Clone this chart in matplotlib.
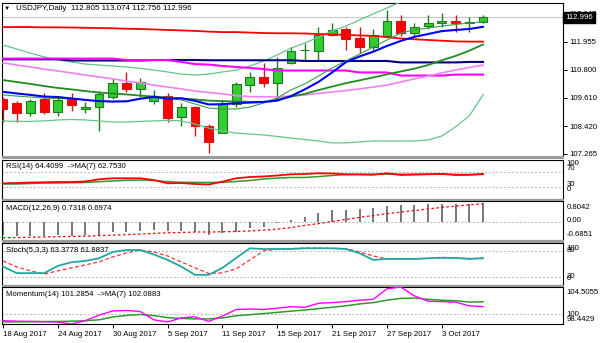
import matplotlib
matplotlib.use("Agg")
import matplotlib.pyplot as plt
from matplotlib.patches import Rectangle
from matplotlib.transforms import blended_transform_factory
import numpy as np

plt.rcParams['font.family'] = ['Liberation Sans', 'DejaVu Sans']

# ---------------- data ----------------
symbol = "USDJPY,Daily"
date_labels = ["18 Aug 2017", "24 Aug 2017", "30 Aug 2017", "5 Sep 2017", "11 Sep 2017",
               "15 Sep 2017", "21 Sep 2017", "27 Sep 2017", "3 Oct 2017"]
date_positions = [0, 4, 8, 12, 16, 20, 24, 28, 32]

open_ = [109.57, 109.38, 108.97, 109.56, 109.04, 109.55, 109.14, 109.25, 109.64, 110.23,
         109.97, 109.47, 109.71, 108.80, 109.22, 108.44, 108.16, 109.36, 110.14, 110.48,
         110.24, 111.06, 111.60, 111.59, 112.25, 112.49, 112.11, 111.73, 112.21, 112.83,
         112.32, 112.62, 112.74, 112.85, 112.73, 112.805]
high = [109.65, 109.48, 109.57, 109.82, 109.61, 109.82, 109.45, 109.92, 110.43, 110.71,
        110.45, 109.95, 109.83, 109.41, 109.27, 108.52, 109.53, 110.29, 110.71, 111.06,
        111.31, 111.76, 111.90, 112.57, 112.76, 112.57, 112.57, 112.49, 113.30, 113.09,
        112.76, 113.09, 113.18, 113.09, 113.01, 113.074]
low = [108.60, 108.62, 108.86, 108.92, 108.86, 109.08, 109.00, 108.24, 109.55, 109.88,
       109.66, 109.36, 108.62, 108.44, 108.02, 107.31, 108.14, 109.25, 109.87, 110.06,
       109.57, 111.03, 111.16, 111.17, 112.21, 111.62, 111.48, 111.59, 112.15, 112.21,
       112.21, 112.49, 112.60, 112.39, 112.39, 112.756]
close = [109.15, 108.97, 109.50, 109.02, 109.53, 109.32, 109.25, 109.76, 110.23, 109.97,
         110.30, 109.68, 108.77, 109.22, 108.42, 107.78, 109.36, 110.20, 110.48, 110.23,
         110.85, 111.59, 111.64, 112.25, 112.46, 112.07, 111.73, 112.25, 112.85, 112.32,
         112.57, 112.76, 112.85, 112.77, 112.79, 112.996]

ma_red = [112.58, 112.58, 112.58, 112.57, 112.57, 112.56, 112.55, 112.54, 112.53, 112.51,
          112.50, 112.48, 112.46, 112.44, 112.42, 112.39, 112.37, 112.37, 112.35, 112.33,
          112.32, 112.32, 112.31, 112.29, 112.27, 112.25, 112.23, 112.21, 112.16, 112.10,
          112.07, 112.04, 112.01, 111.98, 111.97, 111.97]
ma_navy = [111.23, 111.23, 111.23, 111.23, 111.23, 111.18, 111.18, 111.18, 111.18, 111.18,
           111.18, 111.20, 111.20, 111.20, 111.20, 111.19, 111.19, 111.19, 111.19, 111.19,
           111.19, 111.19, 111.16, 111.16, 111.16, 111.16, 111.16, 111.16, 111.16, 111.10,
           111.10, 111.10, 111.10, 111.10, 111.12, 111.12]
ma_magenta = [111.26, 111.26, 111.26, 111.26, 111.26, 111.26, 111.26, 111.26, 111.26, 111.20,
              111.20, 111.20, 111.20, 111.12, 111.03, 111.01, 110.95, 110.91, 110.87, 110.82,
              110.76, 110.76, 110.76, 110.76, 110.76, 110.76, 110.68, 110.68, 110.68, 110.55,
              110.55, 110.55, 110.55, 110.59, 110.59, 110.59]
ma_violet = [111.08, 110.99, 110.91, 110.82, 110.74, 110.66, 110.57, 110.49, 110.41, 110.32,
             110.24, 110.15, 110.07, 109.99, 109.90, 109.84, 109.78, 109.71, 109.67, 109.66,
             109.66, 109.69, 109.74, 109.80, 109.86, 109.92, 109.99, 110.07, 110.15, 110.28,
             110.41, 110.53, 110.66, 110.78, 110.89, 110.99]
ma_blue = [109.87, 109.80, 109.74, 109.67, 109.65, 109.59, 109.53, 109.48, 109.46, 109.47,
           109.58, 109.66, 109.58, 109.60, 109.49, 109.34, 109.35, 109.39, 109.42, 109.44,
           109.50, 109.69, 109.97, 110.28, 110.68, 111.11, 111.35, 111.55, 111.79, 112.00,
           112.17, 112.29, 112.41, 112.46, 112.50, 112.59]
ma_fast = [109.74, 109.69, 109.65, 109.61, 109.59, 109.57, 109.53, 109.48, 109.46, 109.48,
           109.57, 109.61, 109.59, 109.53, 109.36, 109.19, 109.15, 109.15, 109.23, 109.40,
           109.61, 109.95, 110.20, 110.53, 110.87, 111.16, 111.45, 111.75, 112.04, 112.33,
           112.46, 112.54, 112.62, 112.69, 112.75, 112.80]
bb_mid = [110.36, 110.28, 110.20, 110.11, 110.03, 109.97, 109.90, 109.84, 109.80, 109.76,
          109.71, 109.67, 109.63, 109.59, 109.55, 109.50, 109.48, 109.46, 109.45, 109.45,
          109.54, 109.67, 109.78, 109.94, 110.09, 110.23, 110.35, 110.47, 110.60, 110.72,
          110.84, 110.99, 111.19, 111.37, 111.59, 111.85]
bb_up = [111.83, 111.66, 111.49, 111.33, 111.20, 111.12, 111.03, 110.99, 110.95, 110.91,
         110.85, 110.78, 110.70, 110.61, 110.57, 110.61, 110.70, 110.78, 110.95, 111.16,
         111.41, 111.70, 111.91, 112.16, 112.42, 112.62, 112.88, 113.13, 113.38, 113.63,
         113.86, 114.12, 114.37, 114.34, 114.33, 113.97]
bb_low = [108.65, 108.63, 108.63, 108.65, 108.69, 108.71, 108.69, 108.65, 108.60, 108.60,
          108.63, 108.65, 108.67, 108.65, 108.52, 108.35, 108.23, 108.14, 108.10, 108.06,
          108.00, 107.93, 107.87, 107.81, 107.73, 107.73, 107.77, 107.81, 107.81, 107.81,
          107.81, 107.85, 108.02, 108.40, 108.86, 109.74]
price_ticks = [113.145, 111.955, 110.800, 109.610, 108.420, 107.265]

rsi = [40.3, 41.0, 42.3, 42.8, 43.6, 43.6, 44.9, 50.5, 53.1, 53.1, 53.1, 48.7, 40.3, 41.0,
       38.5, 37.2, 44.4, 53.1, 56.4, 57.7, 60.3, 63.3, 64.1, 65.9, 65.4, 63.3, 62.8, 62.1,
       65.9, 61.5, 62.5, 63.5, 64.3, 61.5, 61.8, 64.4099]
rsi_ma = [38.5, 38.5, 39.7, 41.0, 41.0, 41.8, 42.3, 44.4, 46.2, 47.9, 48.7, 47.4, 44.4, 42.8,
          42.8, 42.3, 42.8, 44.9, 47.4, 51.3, 53.8, 55.1, 55.1, 57.5, 60.3, 62.5, 63.3, 63.5,
          63.8, 63.5, 63.6, 63.6, 63.8, 63.2, 63.0, 62.7530]
macd = [-0.51, -0.55, -0.55, -0.53, -0.51, -0.55, -0.51, -0.51, -0.38, -0.38, -0.36, -0.32,
        -0.36, -0.36, -0.38, -0.51, -0.42, -0.38, -0.24, -0.19, -0.04, 0.06, 0.19, 0.34,
        0.45, 0.47, 0.51, 0.55, 0.60, 0.64, 0.66, 0.68, 0.70, 0.70, 0.70, 0.7318]
macd_signal = [-0.60, -0.59, -0.58, -0.57, -0.56, -0.55, -0.54, -0.52, -0.50, -0.48, -0.46,
               -0.43, -0.41, -0.40, -0.38, -0.38, -0.37, -0.36, -0.34, -0.31, -0.27, -0.21,
               -0.13, -0.06, 0.02, 0.10, 0.18, 0.25, 0.32, 0.38, 0.44, 0.50, 0.56, 0.61,
               0.66, 0.6974]
macd_range = [-0.6851, 0.8042]
stoch_k = [43.3, 27.9, 27.9, 27.9, 45.0, 53.6, 56.6, 62.9, 77.7, 82.3, 82.3, 71.8, 59.0, 43.3,
           23.9, 23.9, 40.3, 63.6, 86.3, 84.7, 84.7, 84.7, 86.3, 86.3, 86.3, 84.7, 74.6, 59.0,
           61.3, 61.3, 61.3, 62.9, 64.3, 63.6, 61.3, 63.3778]
stoch_d = [56.6, 42.6, 33.3, 25.6, 33.3, 40.3, 47.3, 54.3, 66.0, 75.3, 82.3, 77.7, 68.3, 54.3,
           40.3, 27.4, 28.6, 38.0, 59.0, 80.0, 84.7, 85.8, 87.0, 87.0, 86.3, 85.8, 77.7, 68.3,
           61.3, 61.3, 61.3, 62.5, 63.6, 63.6, 62.5, 61.8837]
momentum = [98.98, 98.90, 98.87, 98.82, 98.75, 98.4429, 98.98, 99.89, 100.58, 100.66,
            100.50, 99.13, 98.78, 99.44, 99.63, 98.87, 99.74, 100.81, 100.89, 100.81, 101.04,
            101.27, 101.16, 101.83, 101.95, 102.11, 102.34, 102.49, 104.20, 104.5055, 103.05,
            102.18, 102.11, 102.03, 101.42, 101.2854]
momentum_ma = [98.78, 98.80, 98.82, 98.84, 98.86, 98.90, 98.98, 99.13, 99.59, 99.85, 100.00,
               99.82, 99.48, 99.36, 99.28, 99.28, 99.44, 99.79, 99.97, 100.15, 100.35, 100.55,
               100.73, 100.96, 101.19, 101.42, 101.73, 101.95, 102.34, 102.64, 102.69, 102.49,
               102.34, 102.26, 102.03, 102.0883]

# ---------------- layout helpers ----------------
W, H = 600, 343
fig = plt.figure(figsize=(W / 100, H / 100), dpi=100)
fig.patch.set_facecolor('white')

SPACING = 13.714          # pixels per bar
FIRST_X = 3.0             # pixel column of the first bar
LEFT, RIGHT = 2, 563
X0 = (LEFT - FIRST_X) / SPACING
X1 = (RIGHT - FIRST_X) / SPACING
x = np.arange(len(close))
FS = 5.6                  # label font size


def fx(px):
    return px / W


def fy(py):
    return 1 - py / H


def panel(top, bottom):
    ax = fig.add_axes([fx(LEFT), fy(bottom), (RIGHT - LEFT) / W, (bottom - top) / H])
    ax.set_facecolor('white')
    ax.set_xlim(X0, X1)
    ax.set_xticks([])
    ax.yaxis.tick_right()
    ax.tick_params(axis='y', length=3, width=0.7, labelsize=FS, pad=1.5, colors='black')
    for s in ax.spines.values():
        s.set_linewidth(0.8)
        s.set_color('black')
    return ax


def side_label(py, text):
    fig.text(fx(566.5), fy(py), text, fontsize=FS, va='center', ha='left')


def level(ax, v):
    ax.axhline(v, color='#B4B4B4', lw=0.7, ls=(0, (2, 2)), zorder=1)


# gray splitters between the windows
for top, bot in [(156.5, 159.5), (199, 201), (240, 242.5), (285, 287)]:
    fig.add_artist(Rectangle((fx(LEFT), fy(bot)), (RIGHT - LEFT + 1) / W, (bot - top) / H,
                             transform=fig.transFigure, color='#9A9A9A', lw=0))

# ---------------- main price window ----------------
ax = panel(3, 157)
ax.set_ylim(107.139, 113.588)
ax.set_yticks(price_ticks)
ax.set_yticklabels([f"{v:.3f}" for v in price_ticks])
ax.axhline(close[-1], color='#C8C8C8', lw=0.8, zorder=1)

o = np.array(open_); c = np.array(close); h = np.array(high); l = np.array(low)
up = c >= o
edge = np.where(up, '#1E7A1E', '#D01818')
fill = np.where(up, '#32CD32', '#FF0000')
ax.vlines(x, l, h, colors=edge, lw=1.0, zorder=2)
body = np.maximum(np.abs(c - o), 0.012)
ax.bar(x, body, bottom=np.minimum(o, c), width=0.64, color=fill, edgecolor=edge,
       linewidth=0.8, zorder=3)

ax.plot(x, bb_up, color='#66C48A', lw=0.9, zorder=4)
ax.plot(x, bb_low, color='#66C48A', lw=0.9, zorder=4)
ax.plot(x, ma_red, color='#FF0000', lw=1.3, zorder=4)
ax.plot(x, ma_navy, color='#000080', lw=1.5, zorder=4)
ax.plot(x, ma_magenta, color='#FF00FF', lw=1.5, zorder=4)
ax.plot(x, ma_violet, color='#EE82EE', lw=1.2, zorder=4)
ax.plot(x, bb_mid, color='#1E8C1E', lw=1.3, zorder=4)
ax.plot(x, ma_fast, color='#3A9E4E', lw=0.8, zorder=4)
ax.plot(x, ma_blue, color='#0000FF', lw=1.5, zorder=4)

tr = blended_transform_factory(ax.transAxes, ax.transData)
ax.text(1.004, close[-1], f"{close[-1]:.3f}", transform=tr, color='white', fontsize=FS,
        va='center', ha='left', zorder=10,
        bbox=dict(boxstyle='square,pad=0.25', fc='black', ec='black'))
fig.text(fx(4), fy(8.5), "\u25BC", fontsize=4.5, va='center', ha='left')
fig.text(fx(15.5), fy(8.5),
         f"{symbol}  {open_[-1]:.3f} {high[-1]:.3f} {low[-1]:.3f} {close[-1]:.3f}",
         fontsize=5.8, va='center', ha='left')

# ---------------- RSI ----------------
ax_rsi = panel(160, 199)
ax_rsi.set_ylim(0, 100)
ax_rsi.set_yticks([])
for v in (70, 30):
    level(ax_rsi, v)
ax_rsi.plot(x, rsi_ma, color='#2E9B2E', lw=1.1, zorder=3)
ax_rsi.plot(x, rsi, color='#FF0000', lw=1.3, zorder=4)
fig.text(fx(6), fy(166.5), f"RSI(14) {rsi[-1]:.4f}  ->MA(7) {rsi_ma[-1]:.4f}",
         fontsize=FS, va='center', ha='left')
for py, t in [(163, "100"), (168, "70"), (184.5, "30"), (189.5, "0")]:
    side_label(py, t)

# ---------------- MACD ----------------
ax_m = panel(201, 240)
ax_m.set_ylim(*macd_range)
ax_m.set_yticks([])
level(ax_m, 0)
ax_m.bar(x, macd, width=0.14, color='#7A7A7A', zorder=2)
ax_m.plot(x, macd_signal, color='#FF0000', lw=0.9, ls=(0, (2, 2)), zorder=3)
fig.text(fx(6), fy(209), f"MACD(12,26,9) {macd[-1]:.4f} {macd_signal[-1]:.4f}",
         fontsize=FS, va='center', ha='left')
for py, t in [(207, f"{macd_range[1]:.4f}"), (220.5, "0.00"), (234, f"{macd_range[0]:.4f}")]:
    side_label(py, t)

# ---------------- Stochastic ----------------
ax_s = panel(242.5, 285)
ax_s.set_ylim(0, 100)
ax_s.set_yticks([])
for v in (80, 20):
    level(ax_s, v)
ax_s.plot(x, stoch_d, color='#FF3030', lw=0.9, ls=(0, (3, 2)), zorder=3)
ax_s.plot(x, stoch_k, color='#20A8A0', lw=1.3, zorder=4)
fig.text(fx(6), fy(251), f"Stoch(5,3,3) {stoch_k[-1]:.4f} {stoch_d[-1]:.4f}",
         fontsize=FS, va='center', ha='left')
for py, t in [(248, "100"), (251, "80"), (276, "20"), (279, "0")]:
    side_label(py, t)

# ---------------- Momentum ----------------
ax_mo = panel(287, 324)
ax_mo.set_ylim(min(momentum), max(momentum))
ax_mo.set_yticks([])
level(ax_mo, 100)
ax_mo.plot(x, momentum_ma, color='#2E9B2E', lw=1.1, zorder=3)
ax_mo.plot(x, momentum, color='#FF00FF', lw=1.0, zorder=4)
fig.text(fx(6), fy(295), f"Momentum(14) {momentum[-1]:.4f}  ->MA(7) {momentum_ma[-1]:.4f}",
         fontsize=FS, va='center', ha='left')
for py, t in [(292, f"{max(momentum):.4f}"), (314, "100"), (319.5, f"{min(momentum):.4f}")]:
    side_label(py, t)

ax_mo.set_xticks(date_positions)
ax_mo.set_xticklabels(date_labels, ha='left', fontsize=FS)
ax_mo.tick_params(axis='x', length=3, width=0.7, pad=2)

fig.savefig("out.png", dpi=100, facecolor='white')
